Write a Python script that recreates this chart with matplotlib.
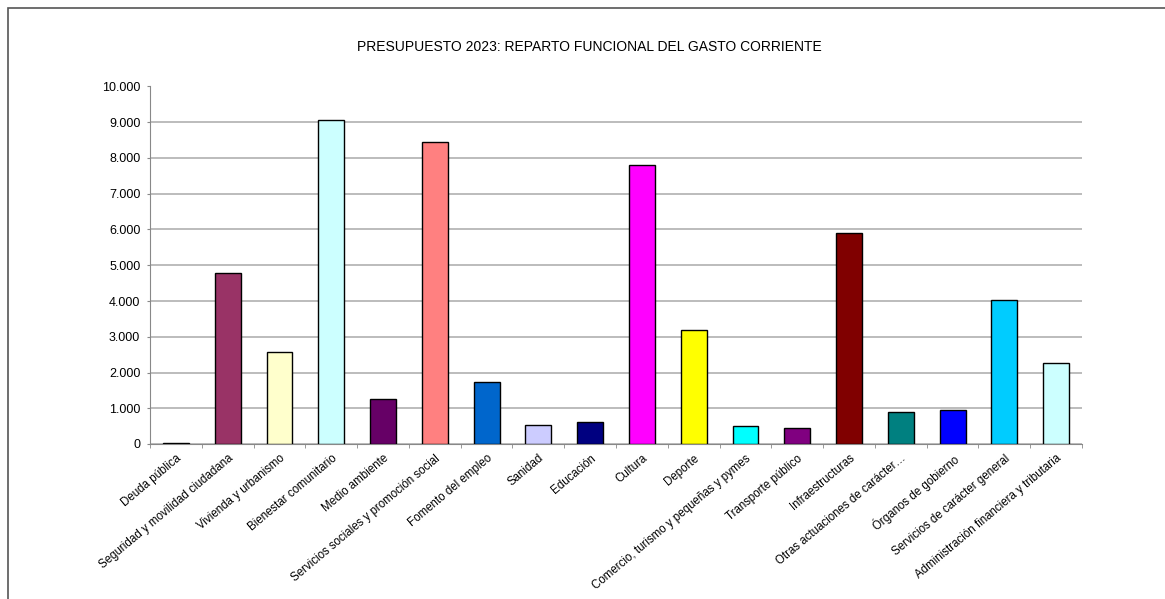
import matplotlib
matplotlib.use('Agg')
import matplotlib.pyplot as plt
from matplotlib.patches import Rectangle
from matplotlib.ticker import FuncFormatter, FixedLocator

plt.rcParams['font.family'] = ['Liberation Sans', 'DejaVu Sans']

categorias = ['Deuda pública', 'Seguridad y movilidad ciudadana', 'Vivienda y urbanismo',
              'Bienestar comunitario', 'Medio ambiente', 'Servicios sociales y promoción social',
              'Fomento del empleo', 'Sanidad', 'Educación', 'Cultura', 'Deporte',
              'Comercio, turismo y pequeñas y pymes', 'Transporte público', 'Infraestructuras',
              'Otras actuaciones de carácter…', 'Órganos de gobierno',
              'Servicios de carácter general', 'Administración financiera y tributaria']
gasto = [40, 4780, 2570, 9050, 1250, 8450, 1740, 520, 610, 7800, 3190,
         500, 455, 5900, 890, 940, 4030, 2270]
colores = ['#9999FF', '#993366', '#FFFFCC', '#CCFFFF', '#660066', '#FF8080', '#0066CC',
           '#CCCCFF', '#000080', '#FF00FF', '#FFFF00', '#00FFFF', '#800080', '#800000',
           '#008080', '#0000FF', '#00CCFF', '#CCFFFF']
y_ticks = [0, 1000, 2000, 3000, 4000, 5000, 6000, 7000, 8000, 9000, 10000]

fig = plt.figure(figsize=(11.65, 5.99), dpi=100)
# marco exterior del grafico
fig.patches.append(Rectangle((8 / 1165, -0.05), 1.1, 1 - 8 / 599 + 0.05,
                             transform=fig.transFigure, fill=False,
                             edgecolor='#555555', lw=1.2))

ax = fig.add_axes([150 / 1165, 1 - 444 / 599, (1082 - 150) / 1165, (444 - 86.5) / 599])
x = range(len(categorias))
ax.bar(x, gasto, width=0.5, color=colores, edgecolor='black', linewidth=1, zorder=3)

ax.set_xlim(-0.5, len(categorias) - 0.5)
ax.set_ylim(0, 10000)
ax.set_yticks(y_ticks)
ax.yaxis.set_major_formatter(FuncFormatter(lambda v, p: f'{int(v):,}'.replace(',', '.')))
ax.grid(axis='y', color='#b0b0b0', lw=1.2, zorder=0)

ax.set_xticks(list(x))
ax.set_xticklabels(categorias, rotation=40, ha='right', rotation_mode='anchor', fontsize=8.3)
ax.xaxis.set_minor_locator(FixedLocator([i - 0.5 for i in range(len(categorias) + 1)]))
ax.tick_params(axis='x', which='major', length=0, pad=6)
ax.tick_params(axis='x', which='minor', length=3, color='#888888')
ax.tick_params(axis='y', length=2.5, color='#888888', labelsize=9, pad=4.5)

for s in ['top', 'right']:
    ax.spines[s].set_visible(False)
for s in ['left', 'bottom']:
    ax.spines[s].set_color('#888888')

fig.text(589 / 1165, 1 - 47 / 599,
         'PRESUPUESTO 2023: REPARTO FUNCIONAL DEL GASTO CORRIENTE',
         ha='center', va='center', fontsize=10)

fig.savefig('out.png', dpi=100)
